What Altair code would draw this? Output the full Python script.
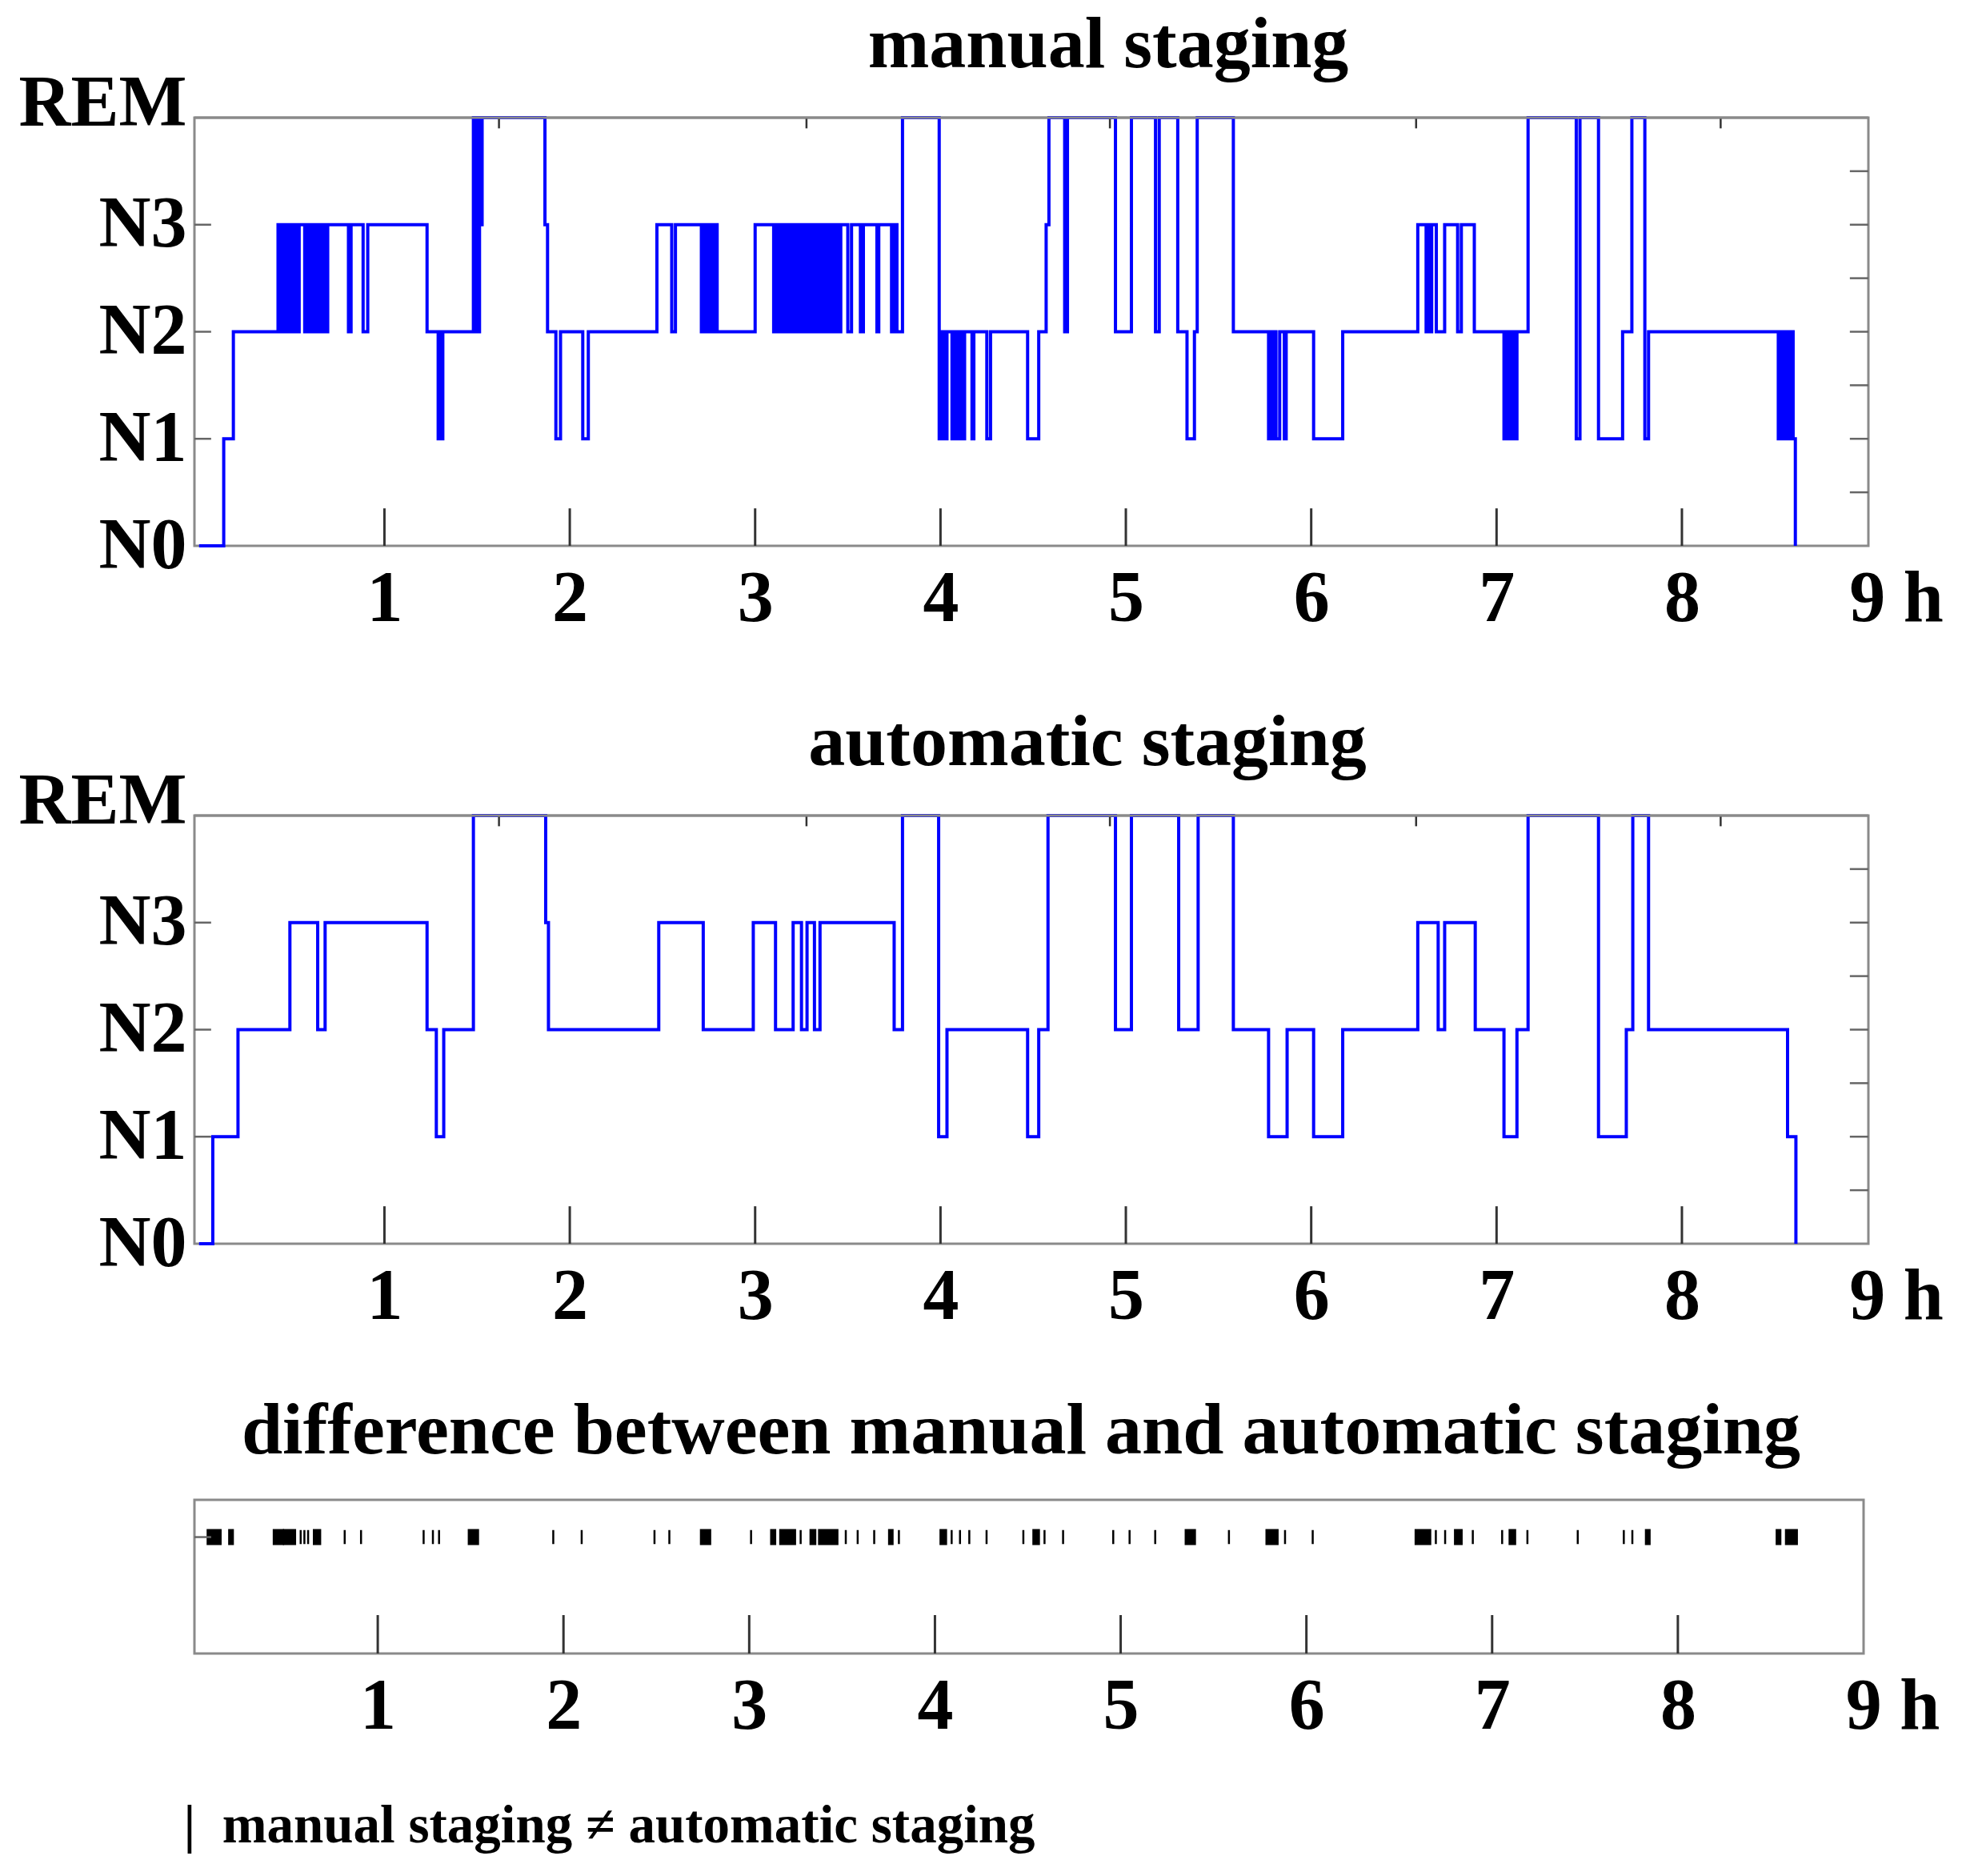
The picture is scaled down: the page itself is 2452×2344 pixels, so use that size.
import json
import altair as alt
import pandas as pd

FONT = "Liberation Serif"

stage_labels = ["N0", "N1", "N2", "N3", "REM"]
hour_labels = [1, 2, 3, 4, 5, 6, 7, 8, 9]
inner_hours = [1, 2, 3, 4, 5, 6, 7, 8]
top_marks = [1.618, 3.277, 4.914, 6.566, 8.209]
major_levels = [1, 2, 3]
minor_levels = [0.5, 1, 1.5, 2, 2.5, 3, 3.5]
diff_levels = [1]

# (time in hours, stage index 0=N0 .. 4=REM), stage holds until next time
manual_steps = [
    (0.000, 0), (0.133, 1), (0.185, 2),
    (0.426, 3), (0.435, 2), (0.443, 3), (0.452, 2), (0.460, 3), (0.468, 2), (0.477, 3),
    (0.485, 2), (0.494, 3), (0.502, 2), (0.511, 3), (0.520, 2), (0.528, 3), (0.536, 2),
    (0.540, 3), (0.570, 2), (0.578, 3), (0.586, 2), (0.595, 3), (0.603, 2), (0.611, 3),
    (0.620, 2), (0.628, 3), (0.636, 2), (0.645, 3), (0.653, 2), (0.661, 3), (0.670, 2),
    (0.678, 3), (0.686, 2), (0.694, 3),
    (0.806, 2), (0.820, 3), (0.885, 2), (0.910, 3),
    (1.230, 2), (1.290, 1), (1.300, 2), (1.305, 1), (1.315, 2),
    (1.480, 4), (1.488, 2), (1.496, 4), (1.505, 2), (1.513, 4), (1.520, 3), (1.527, 4),
    (1.866, 3), (1.880, 2), (1.925, 1), (1.950, 2), (2.070, 1), (2.100, 2),
    (2.470, 3), (2.550, 2), (2.570, 3), (2.710, 2), (2.720, 3), (2.730, 2), (2.740, 3),
    (2.750, 2), (2.765, 3), (2.775, 2), (2.785, 3), (2.795, 2),
    (3.000, 3), (3.100, 2), (3.115, 3), (3.124, 2), (3.133, 3), (3.142, 2), (3.151, 3),
    (3.160, 2), (3.169, 3), (3.178, 2), (3.187, 3), (3.196, 2), (3.205, 3), (3.214, 2),
    (3.223, 3), (3.232, 2), (3.241, 3), (3.250, 2), (3.259, 3), (3.268, 2), (3.277, 3),
    (3.290, 2), (3.300, 3), (3.310, 2), (3.318, 3), (3.327, 2), (3.336, 3), (3.345, 2),
    (3.354, 3), (3.363, 2), (3.372, 3), (3.381, 2), (3.390, 3), (3.399, 2), (3.408, 3),
    (3.417, 2), (3.426, 3), (3.435, 2), (3.444, 3), (3.453, 2), (3.462, 3),
    (3.500, 2), (3.520, 3), (3.568, 2), (3.584, 3), (3.657, 2), (3.667, 3), (3.736, 2),
    (3.750, 3), (3.765, 2), (3.795, 4),
    (3.993, 1), (4.000, 2), (4.008, 1), (4.016, 2), (4.024, 1), (4.035, 2), (4.062, 1),
    (4.070, 2), (4.078, 1), (4.090, 2), (4.100, 1), (4.110, 2), (4.120, 1), (4.130, 2),
    (4.170, 1), (4.180, 2), (4.250, 1), (4.270, 2),
    (4.470, 1), (4.530, 2), (4.570, 3), (4.585, 4), (4.670, 2), (4.685, 4),
    (4.944, 2), (5.030, 4), (5.160, 2), (5.180, 4), (5.280, 2), (5.330, 1), (5.370, 2),
    (5.385, 4), (5.580, 2), (5.770, 1), (5.780, 2), (5.790, 1), (5.800, 2), (5.810, 1),
    (5.830, 2), (5.855, 1), (5.865, 2),
    (6.013, 1), (6.170, 2),
    (6.575, 3), (6.620, 2), (6.630, 3), (6.645, 2), (6.650, 3), (6.675, 2), (6.720, 3),
    (6.790, 2), (6.810, 3), (6.880, 2),
    (7.040, 1), (7.050, 2), (7.060, 1), (7.075, 2), (7.085, 1), (7.095, 2), (7.100, 1),
    (7.110, 2), (7.170, 4), (7.430, 1), (7.450, 4), (7.550, 1), (7.680, 2), (7.730, 4),
    (7.800, 1), (7.820, 2),
    (8.520, 1), (8.530, 2), (8.540, 1), (8.550, 2), (8.560, 1), (8.570, 2), (8.580, 1),
    (8.590, 2), (8.600, 1), (8.612, 0),
]

auto_steps = [
    (0.000, 0), (0.074, 1), (0.210, 2), (0.490, 3), (0.640, 2), (0.680, 3), (1.230, 2),
    (1.280, 1), (1.320, 2), (1.480, 4), (1.870, 3), (1.885, 2), (2.480, 3), (2.720, 2),
    (2.990, 3), (3.110, 2), (3.205, 3), (3.250, 2), (3.280, 3), (3.320, 2), (3.350, 3),
    (3.750, 2), (3.795, 4), (3.990, 1), (4.035, 2), (4.470, 1), (4.530, 2), (4.580, 4),
    (4.944, 2), (5.030, 4), (5.285, 2), (5.390, 4), (5.580, 2), (5.770, 1), (5.870, 2),
    (6.013, 1), (6.170, 2), (6.575, 3), (6.685, 2), (6.720, 3), (6.885, 2), (7.040, 1),
    (7.110, 2), (7.170, 4), (7.550, 1), (7.700, 2), (7.735, 4), (7.820, 2), (8.570, 1),
    (8.615, 0),
]

# epochs (hours) where manual and automatic staging disagree: start / end of each run
diff_start = [0.084, 0.200, 0.440, 0.495, 0.585, 0.605, 0.625, 0.656, 0.822, 0.910,
              1.247, 1.297, 1.330, 1.490, 1.945, 2.098, 2.490, 2.570, 2.740, 3.010,
              3.118, 3.167, 3.277, 3.330, 3.376, 3.520, 3.584, 3.673, 3.753, 3.806,
              4.030, 4.090, 4.135, 4.185, 4.278, 4.476, 4.530, 4.590, 4.690, 4.960,
              5.048, 5.186, 5.350, 5.583, 5.785, 5.885, 6.034, 6.588, 6.697, 6.747,
              6.800, 6.896, 7.054, 7.094, 7.190, 7.461, 7.709, 7.755, 7.828, 8.532,
              8.582]
diff_end = [0.154, 0.220, 0.490, 0.555, 0.585, 0.605, 0.625, 0.690, 0.822, 0.910,
            1.247, 1.297, 1.330, 1.540, 1.945, 2.098, 2.490, 2.570, 2.790, 3.010,
            3.140, 3.247, 3.277, 3.356, 3.475, 3.520, 3.584, 3.673, 3.772, 3.806,
            4.060, 4.090, 4.135, 4.185, 4.278, 4.476, 4.560, 4.590, 4.690, 4.960,
            5.048, 5.186, 5.400, 5.583, 5.845, 5.885, 6.034, 6.667, 6.697, 6.747,
            6.836, 6.896, 7.054, 7.124, 7.190, 7.461, 7.709, 7.755, 7.848, 8.552,
            8.641]

X_DOM = [-0.025, 9.006]
X_DOM3 = [0.013, 9.0]
W, H = 2092, 535
W3, H3 = 2086, 192
TICK_COLOR = "#333333"
FRAME = "#8a8a8a"
LEGEND_TEXT = "|\u00a0\u00a0manual staging \u2260 automatic staging"

LABEL_EXPR_X = "datum.value == 9 ? '9 h' : datum.label"
X_LABEL_SHIFT = {"condition": {"test": "datum.value == 9", "value": 36}, "value": 0}
Y_LABEL_SHIFT = {"condition": {"test": "datum.value == 4", "value": -18}, "value": 0}

XAXIS = alt.Axis(
    values=hour_labels, grid=False, ticks=False, domain=False, title=None,
    labelFont=FONT, labelFontSize=90, labelFontWeight="bold", labelColor="black",
    labelPadding=22, labelFlush=False, labelOverlap=False, labelExpr=LABEL_EXPR_X,
    labelLimit=400, labelOffset=X_LABEL_SHIFT,
)
YAXIS = alt.Axis(
    values=[0, 1, 2, 3, 4], grid=False, ticks=False, domain=False, title=None,
    labelFont=FONT, labelFontSize=90, labelFontWeight="bold", labelLimit=400,
    labelColor="black", labelPadding=10, labelOverlap=False, labelFlush=False,
    labelExpr=json.dumps(stage_labels) + "[datum.value]", labelOffset=Y_LABEL_SHIFT,
)
XAXIS3 = alt.Axis(
    values=hour_labels, grid=False, ticks=False, domain=False, title=LEGEND_TEXT,
    labelFont=FONT, labelFontSize=90, labelFontWeight="bold", labelColor="black",
    labelPadding=22, labelFlush=False, labelOverlap=False, labelExpr=LABEL_EXPR_X,
    labelLimit=400, labelOffset=X_LABEL_SHIFT,
    titleFont=FONT, titleFontSize=67, titleFontWeight="bold", titleLimit=2000,
    titleColor="black", titleAnchor="start", titleAlign="left",
    titleBaseline="alphabetic", titleX=-14, titleY=235,
)


def hypnogram(steps, title, title_dx):
    df = pd.DataFrame(steps, columns=["t", "stage"])
    xs = alt.Scale(domain=X_DOM, nice=False, zero=False)
    ys = alt.Scale(domain=[0, 4], nice=False, zero=False)
    line = alt.Chart(df).mark_line(
        interpolate="step-after", color="#0000ff", strokeWidth=4
    ).encode(
        x=alt.X("t:Q", scale=xs, axis=XAXIS),
        y=alt.Y("stage:Q", scale=ys, axis=YAXIS),
    )
    bottom = alt.Chart(pd.DataFrame({"h": inner_hours})).mark_rule(
        color=TICK_COLOR, strokeWidth=3
    ).encode(
        x=alt.X("h:Q", scale=xs, axis=XAXIS),
        y=alt.YDatum(0, type="quantitative", scale=ys, axis=YAXIS),
        y2=alt.Y2Datum(0.35),
    )
    top = alt.Chart(pd.DataFrame({"h": top_marks})).mark_rule(
        color=TICK_COLOR, strokeWidth=2.5
    ).encode(
        x=alt.X("h:Q", scale=xs, axis=XAXIS),
        y=alt.YDatum(3.9, type="quantitative", scale=ys, axis=YAXIS),
        y2=alt.Y2Datum(4),
    )
    left = alt.Chart(pd.DataFrame({"lvl": major_levels})).mark_rule(
        color="#666666", strokeWidth=2.5
    ).encode(
        y=alt.Y("lvl:Q", scale=ys, axis=YAXIS),
        x=alt.XDatum(X_DOM[0], type="quantitative", scale=xs, axis=XAXIS),
        x2=alt.X2Datum(X_DOM[0] + 0.09),
    )
    right = alt.Chart(pd.DataFrame({"lvl": minor_levels})).mark_rule(
        color="#666666", strokeWidth=2.5
    ).encode(
        y=alt.Y("lvl:Q", scale=ys, axis=YAXIS),
        x=alt.XDatum(X_DOM[1] - 0.1, type="quantitative", scale=xs, axis=XAXIS),
        x2=alt.X2Datum(X_DOM[1]),
    )
    edge = alt.Chart(pd.DataFrame({"lvl": [4]})).mark_rule(
        color=FRAME, strokeWidth=3
    ).encode(
        y=alt.Y("lvl:Q", scale=ys, axis=YAXIS),
        x=alt.XDatum(X_DOM[0], type="quantitative", scale=xs, axis=XAXIS),
        x2=alt.X2Datum(X_DOM[1]),
    )
    return alt.layer(line, bottom, top, left, right, edge).properties(
        width=W, height=H,
        title=alt.TitleParams(
            title, font=FONT, fontSize=92, fontWeight="bold", color="black",
            anchor="middle", frame="group", dx=title_dx, offset=-19,
        ),
    )


p1 = hypnogram(manual_steps, "manual staging", 96)
p2 = hypnogram(auto_steps, "automatic staging", 70)

xs3 = alt.Scale(domain=X_DOM3, nice=False, zero=False)
ys3 = alt.Scale(domain=[0, 1.32], nice=False, zero=False)
diff_df = pd.DataFrame({"s": diff_start, "e": diff_end})
marks = alt.Chart(diff_df).mark_rect(
    color="black", stroke="black", strokeWidth=2.5
).encode(
    x=alt.X("s:Q", scale=xs3, axis=XAXIS3),
    x2="e:Q",
    y=alt.YDatum(0.94, type="quantitative", scale=ys3, axis=None),
    y2=alt.Y2Datum(1.06),
)
bottom3 = alt.Chart(pd.DataFrame({"h": inner_hours})).mark_rule(
    color=TICK_COLOR, strokeWidth=3
).encode(
    x=alt.X("h:Q", scale=xs3, axis=XAXIS3),
    y=alt.YDatum(0, type="quantitative", scale=ys3, axis=None),
    y2=alt.Y2Datum(0.33),
)
left3 = alt.Chart(pd.DataFrame({"lvl": diff_levels})).mark_rule(
    color="#666666", strokeWidth=2.5
).encode(
    y=alt.Y("lvl:Q", scale=ys3, axis=None),
    x=alt.XDatum(X_DOM3[0], type="quantitative", scale=xs3, axis=XAXIS3),
    x2=alt.X2Datum(X_DOM3[0] + 0.09),
)
p3 = alt.layer(marks, bottom3, left3).properties(
    width=W3, height=H3,
    title=alt.TitleParams(
        "difference between manual and automatic staging", font=FONT, fontSize=92,
        fontWeight="bold", color="black", anchor="middle", frame="group", dx=-10, offset=39,
    ),
)

top_pair = alt.vconcat(p1, p2, spacing=85)
chart = alt.vconcat(top_pair, p3, spacing=73).properties(
    padding={"left": 13, "top": 0, "right": 0, "bottom": 0},
    background="white",
).configure_view(
    stroke=FRAME, strokeWidth=3
)

chart.save("out.html", embed_options={"renderer": "svg", "actions": False})
